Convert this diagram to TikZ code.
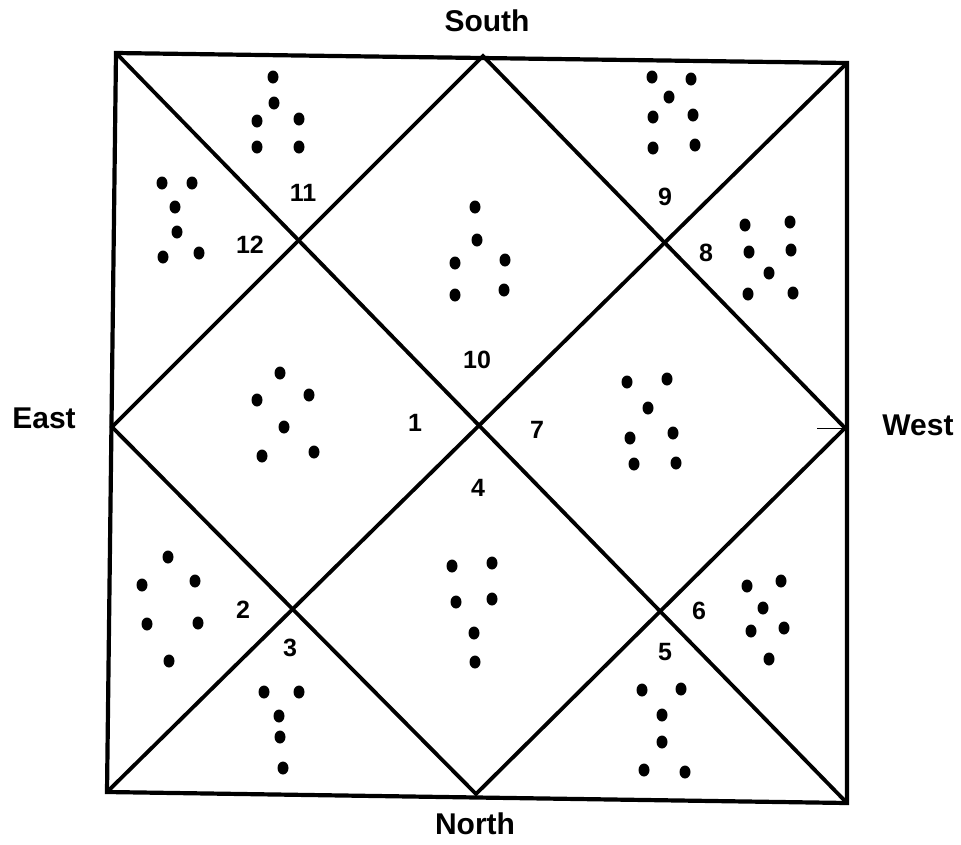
\documentclass[tikz,border=0pt]{standalone}
\usepackage{fontspec}
\setmainfont{Liberation Sans}

\begin{document}
\begin{tikzpicture}[x=1pt, y=-1pt,
        dirlabel/.style={inner sep=0pt, font=\fontsize{30}{33}\selectfont\bfseries},
        houseno/.style={font=\fontsize{25}{28}\selectfont\bfseries},
        chartline/.style={line width=3.8pt, line join=miter},
        dotmark/.style={fill=black}]
      \useasboundingbox (0,0) rectangle (961,844);
      % corners and mid points of the square
      \coordinate (TL) at (116,53);
      \coordinate (T)  at (483,56);
      \coordinate (TR) at (847,63);
      \coordinate (R)  at (845,428);
      \coordinate (BR) at (847,803);
      \coordinate (B)  at (476,794);
      \coordinate (BL) at (107,792);
      \coordinate (L)  at (112,427);
      \coordinate (Rtick) at (817,428);
      \draw[chartline, line width=4.2pt] (TL) -- (TR) -- (BR) -- (BL) -- cycle;
      \draw[chartline] (TL) -- (BR);
      \draw[chartline] (TR) -- (BL);
      \draw[chartline] (T) -- (R) -- (B) -- (L) -- cycle;
      \draw[line width=0.8pt] (Rtick) -- (R);
      % directions
      \node[dirlabel] (south) at (487,21)  {South};
      \node[dirlabel] (east)  at (44,418)  {East};
      \node[dirlabel] (west)  at (918,425) {West};
      \node[dirlabel] (north) at (475,824) {North};
      % house numbers
      \foreach \n/\p in {1/{415,423}, 2/{243,610}, 3/{290,648}, 4/{478,488},
          5/{665,652}, 6/{699,611}, 7/{537,430}, 8/{706,253},
          9/{665,197}, 10/{477,360}, 11/{303,193}, 12/{250,245}}
        \node[houseno] (h\n) at (\p) {\n};
      % dots in each house
      \foreach \p in {
          {280,373},{257,400},{309,395},{284,427},{262,456},{314,452},
          {168,557},{142,585},{195,581},{147,624},{198,623},{169,661},
          {264,692},{299,692},{279,716},{280,737},{283,768},
          {452,566},{492,563},{456,602},{492,599},{474,633},{475,662},
          {642,690},{681,689},{662,715},{662,742},{644,770},{685,772},
          {747,586},{781,581},{763,608},{751,631},{784,628},{769,659},
          {627,382},{667,379},{648,408},{630,438},{673,433},{634,464},{676,463},
          {745,225},{790,222},{749,252},{791,250},{769,273},{748,294},{793,293},
          {652,77},{691,79},{669,97},{653,117},{693,115},{653,148},{695,145},
          {475,207},{477,240},{455,263},{505,260},{455,295},{504,290},
          {273,77},{274,103},{257,121},{299,119},{257,147},{299,147},
          {162,183},{192,183},{175,207},{177,232},{163,257},{199,253}}
        \fill[dotmark] (\p) ellipse [x radius=5.5pt, y radius=6.5pt];
\end{tikzpicture}
\end{document}
